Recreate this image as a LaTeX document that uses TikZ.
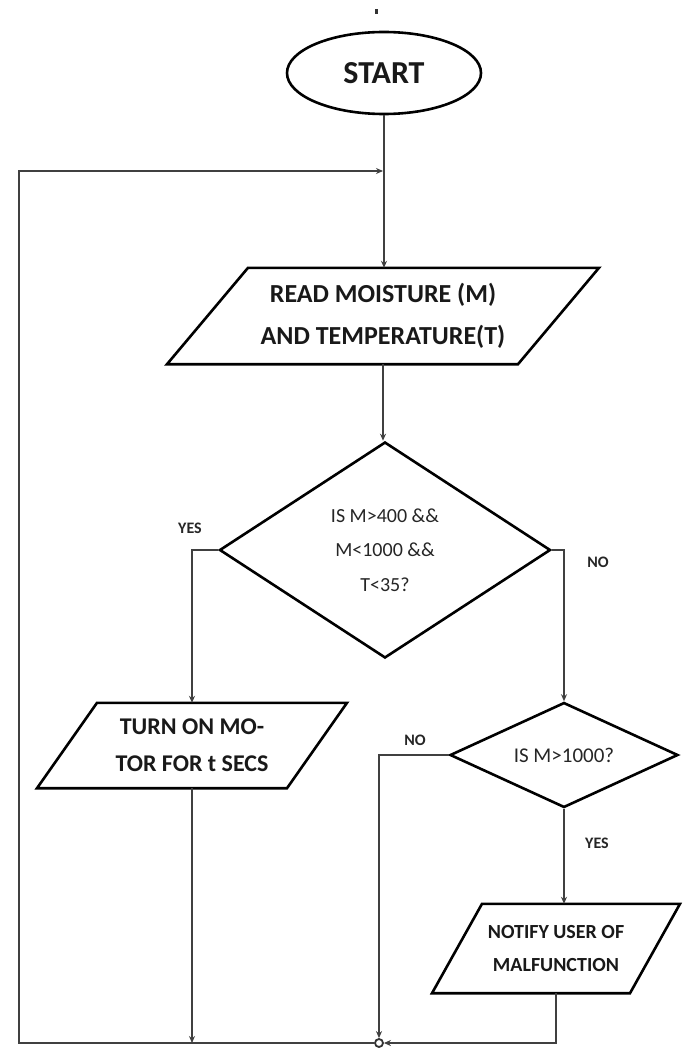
\documentclass[tikz,border=0pt]{standalone}
\usepackage{fontspec}
\setmainfont{Carlito}
\usetikzlibrary{shapes.geometric,arrows.meta,calc}
\begin{document}
\begin{tikzpicture}[x=1pt,y=-1pt,
  conn/.style={draw=black!75, line width=1.7pt},
  arr/.style={conn,-{Stealth[length=7pt,width=6pt]}},
  shapeline/.style={draw=black, line width=2.6pt, line join=miter},
  txtbox/.style={inner sep=0pt, align=center, text=black!90},
  lbl/.style={font=\bfseries\fontsize{16}{18}\selectfont, text=black!85}]
\fill[white] (0,0) rectangle (688,1051);
\useasboundingbox (0,0) rectangle (688,1051);
% stray mark at top
\fill[black!80] (375,9) rectangle (377.5,14);
% nodes
\node[ellipse, shapeline, minimum width=194pt, minimum height=82pt, inner sep=0pt,
  font=\bfseries\fontsize{32}{36}\selectfont, text=black!90] (start) at (384,73) {START};
\node[txtbox, minimum width=351pt, minimum height=96pt,
  font=\bfseries\fontsize{26}{42}\selectfont] (read) at (383,316) {READ MOISTURE (M)\\AND TEMPERATURE(T)};
\draw[shapeline] ($(read.north)+(-135,0)$) -- ($(read.north)+(216,0)$) -- ($(read.south)+(135,0)$) -- ($(read.south)+(-216,0)$) -- cycle;
\node[diamond, shapeline, minimum width=331pt, minimum height=216pt, aspect=1.53, inner sep=0pt,
  align=center, text=black!85, font=\fontsize{20}{34.5}\selectfont] (d1) at (385,550) {IS M>400 \&\&\\M<1000 \&\&\\T<35?};
\node[txtbox, minimum width=250pt, minimum height=85pt,
  font=\bfseries\fontsize{24}{37}\selectfont] (turn) at (192,745.5) {TURN ON MO-\\TOR FOR t SECS};
\draw[shapeline] ($(turn.north)+(-95,0)$) -- ($(turn.north)+(155,0)$) -- ($(turn.south)+(95,0)$) -- ($(turn.south)+(-155,0)$) -- cycle;
\node[diamond, shapeline, minimum width=228pt, minimum height=105pt, aspect=2.17, inner sep=0pt,
  text=black!85, font=\fontsize{21}{24}\selectfont] (d2) at (564,755) {IS M>1000?};
\node[txtbox, minimum width=198pt, minimum height=89pt,
  font=\bfseries\fontsize{20}{33}\selectfont] (notify) at (556,948.5) {NOTIFY USER OF\\MALFUNCTION};
\draw[shapeline] ($(notify.north)+(-74,0)$) -- ($(notify.north)+(124,0)$) -- ($(notify.south)+(74,0)$) -- ($(notify.south)+(-124,0)$) -- cycle;
\node[circle, draw=black!80, line width=1.8pt, minimum size=8pt, inner sep=0pt] (jn) at (379,1043) {};
% labels
\node[lbl] (yes1) at (190,528) {YES};
\node[lbl] (no1) at (598,562) {NO};
\node[lbl] (no2) at (415,740) {NO};
\node[lbl] (yes2) at (597,843) {YES};
% coordinates for the loop
\coordinate (bl) at (19,1043);
\coordinate (tl) at (19,171);
\coordinate (merge) at (383,171);
% connectors
\draw[arr] (start.south) -- (start.south |- read.north);
\draw[arr] (read.south) -- (read.south |- d1.north);
\draw[arr] (d1.west) -| (turn.north);
\draw[arr] (d1.east) -| (d2.north);
\draw[arr] (d2.west) -| (jn.north);
\draw[arr] (d2.south) -- (d2.south |- notify.north);
\draw[arr] (notify.south) |- (jn.east);
\draw[arr] (turn.south) -- (turn.south |- jn.center);
\draw[arr] (jn.west) -- (bl) -- (tl) -- (merge);
\end{tikzpicture}
\end{document}
